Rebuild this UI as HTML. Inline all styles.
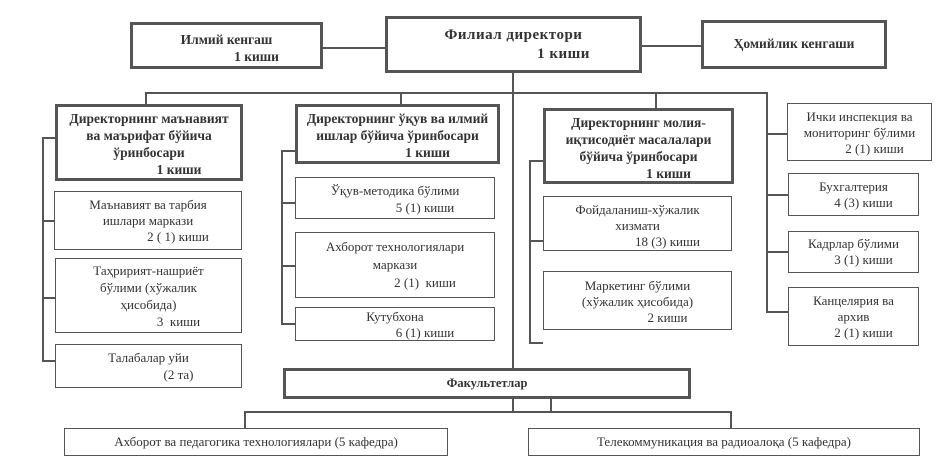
<!DOCTYPE html>
<html><head><meta charset="utf-8"><style>
body{margin:0;width:940px;height:466px;background:#fff;position:relative;overflow:hidden;font-family:"Liberation Serif",serif;color:#333}
.b{position:absolute;border:1.5px solid #555;box-sizing:border-box;text-align:center;font-size:13px;line-height:15px;background:#fff;white-space:nowrap}
.t{border:3px solid #555;font-weight:bold;font-size:13.5px}
.l{position:absolute;background:#555}
.h{height:1.5px}.v{width:1.5px}
.r{padding-left:60px}
</style></head><body>
<div class="l h" style="left:322px;top:47px;width:63px"></div>
<div class="l h" style="left:642px;top:45px;width:59px"></div>
<div class="l v" style="left:512px;top:72px;height:297px"></div>
<div class="l h" style="left:145px;top:92px;width:621px"></div>
<div class="l v" style="left:145px;top:92px;height:12px"></div>
<div class="l v" style="left:400px;top:92px;height:12px"></div>
<div class="l v" style="left:655px;top:92px;height:16px"></div>
<div class="l v" style="left:766px;top:92px;height:220px"></div>
<div class="l h" style="left:766px;top:133px;width:21px"></div>
<div class="l h" style="left:766px;top:194px;width:22px"></div>
<div class="l h" style="left:766px;top:251px;width:22px"></div>
<div class="l h" style="left:766px;top:311px;width:22px"></div>
<div class="l v" style="left:42px;top:137px;height:224px"></div>
<div class="l h" style="left:42px;top:137px;width:13px"></div>
<div class="l h" style="left:42px;top:220px;width:13px"></div>
<div class="l h" style="left:42px;top:297px;width:13px"></div>
<div class="l h" style="left:42px;top:360px;width:13px"></div>
<div class="l v" style="left:281px;top:150px;height:174px"></div>
<div class="l h" style="left:281px;top:150px;width:14px"></div>
<div class="l h" style="left:281px;top:202px;width:14px"></div>
<div class="l h" style="left:281px;top:265px;width:14px"></div>
<div class="l h" style="left:281px;top:323px;width:14px"></div>
<div class="l v" style="left:529px;top:160px;height:183px"></div>
<div class="l h" style="left:529px;top:160px;width:14px"></div>
<div class="l h" style="left:529px;top:240px;width:14px"></div>
<div class="l h" style="left:529px;top:342px;width:14px"></div>
<div class="l v" style="left:512px;top:398px;height:14px"></div>
<div class="l v" style="left:550px;top:398px;height:14px"></div>
<div class="l h" style="left:244px;top:411px;width:487px"></div>
<div class="l v" style="left:244px;top:411px;height:17px"></div>
<div class="l v" style="left:730px;top:411px;height:17px"></div>

<div class="b t" style="left:130px;top:22px;width:193px;height:47px;padding-top:6px;line-height:17px">Илмий кенгаш<br><span class="r">1 киши</span></div>
<div class="b t" style="left:385px;top:16px;width:257px;height:57px;padding-top:7px;font-size:15px;line-height:19px;letter-spacing:.5px">Филиал директори<br><span style="padding-left:100px">1 киши</span></div>
<div class="b t" style="left:701px;top:20px;width:186px;height:49px;line-height:42px">Ҳомийлик кенгаши</div>

<div class="b t" style="left:55px;top:104px;width:188px;height:77px;padding-top:3px;line-height:17px">Директорнинг маънавият<br>ва маърифат бўйича<br>ўринбосари<br><span class="r">1 киши</span></div>
<div class="b" style="left:54px;top:191px;width:188px;height:59px;padding-top:5px;line-height:16px">Маънавият ва тарбия<br>ишлари маркази<br><span class="r">2 ( 1) киши</span></div>
<div class="b" style="left:55px;top:258px;width:187px;height:75px;padding-top:3px;line-height:17px">Таҳририят-нашриёт<br>бўлими (хўжалик<br>ҳисобида)<br><span class="r">3&nbsp; киши</span></div>
<div class="b" style="left:55px;top:344px;width:187px;height:44px;padding-top:4px;line-height:17px">Талабалар уйи<br><span class="r">(2 та)</span></div>

<div class="b t" style="left:295px;top:104px;width:205px;height:60px;padding-top:3px;line-height:17px">Директорнинг ўқув ва илмий<br>ишлар бўйича ўринбосари<br><span class="r">1 киши</span></div>
<div class="b" style="left:295px;top:177px;width:200px;height:42px;padding-top:4px;line-height:17px">Ўқув-методика бўлими<br><span class="r">5 (1) киши</span></div>
<div class="b" style="left:295px;top:232px;width:200px;height:66px;padding-top:5px;line-height:18px">Ахборот технологиялари<br>маркази<br><span class="r">2 (1)&nbsp; киши</span></div>
<div class="b" style="left:295px;top:307px;width:200px;height:34px;padding-top:1px;line-height:16px">Кутубхона<br><span class="r">6 (1) киши</span></div>

<div class="b t" style="left:543px;top:108px;width:191px;height:76px;padding-top:3px;line-height:17px">Директорнинг молия-<br>иқтисодиёт масалалари<br>бўйича ўринбосари<br><span class="r">1 киши</span></div>
<div class="b" style="left:543px;top:196px;width:189px;height:55px;padding-top:5px;line-height:16px">Фойдаланиш-хўжалик<br>хизмати<br><span class="r">18 (3) киши</span></div>
<div class="b" style="left:543px;top:271px;width:189px;height:59px;padding-top:6px;line-height:16px">Маркетинг бўлими<br>(хўжалик ҳисобида)<br><span class="r">2 киши</span></div>

<div class="b" style="left:787px;top:103px;width:145px;height:58px;padding-top:5px;line-height:16px">Ички инспекция ва<br>мониторинг бўлими<br><span style="padding-left:30px">2 (1) киши</span></div>
<div class="b" style="left:788px;top:173px;width:131px;height:43px;padding-top:5px;line-height:16px">Бухгалтерия<br><span style="padding-left:20px">4 (3) киши</span></div>
<div class="b" style="left:788px;top:231px;width:131px;height:42px;padding-top:4px;line-height:16px">Кадрлар бўлими<br><span style="padding-left:20px">3 (1) киши</span></div>
<div class="b" style="left:788px;top:287px;width:131px;height:59px;padding-top:5px;line-height:16px">Канцелярия ва<br>архив<br><span style="padding-left:20px">2 (1) киши</span></div>

<div class="b t" style="left:283px;top:368px;width:408px;height:31px;line-height:25px;font-size:12.5px">Факультетлар</div>
<div class="b" style="left:64px;top:428px;width:384px;height:28px;line-height:25px">Ахборот ва педагогика технологиялари (5 кафедра)</div>
<div class="b" style="left:528px;top:428px;width:392px;height:28px;line-height:25px">Телекоммуникация ва радиоалоқа (5 кафедра)</div>
</body></html>
